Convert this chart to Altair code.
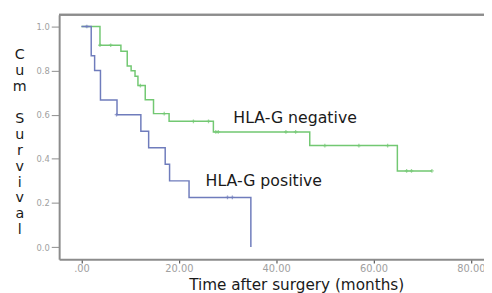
import altair as alt
import pandas as pd

# Kaplan-Meier step points (time in months, cumulative survival)
neg_time = [0, 3.8, 8.1, 9.4, 10.2, 11.0, 11.6, 13.1, 14.8, 18.0, 27.1, 46.9, 64.9, 72.0]
neg_surv = [1.0, 0.915, 0.888, 0.821, 0.799, 0.774, 0.732, 0.668, 0.605, 0.570, 0.522, 0.460, 0.345, 0.345]
pos_time = [0, 2.0, 2.7, 3.9, 7.3, 12.2, 13.8, 17.2, 18.1, 22.1, 34.8]
pos_surv = [1.0, 0.867, 0.80, 0.667, 0.60, 0.525, 0.45, 0.375, 0.30, 0.225, 0.0]

# censored observations
neg_cens_time = [3.8, 6.0, 12.1, 17.0, 23.0, 26.1, 27.6, 28.1, 42.0, 44.0, 50.0, 57.0, 62.9, 66.8, 67.8, 72.0]
neg_cens_surv = [0.915, 0.915, 0.732, 0.605, 0.570, 0.570, 0.522, 0.522, 0.522, 0.522, 0.460, 0.460, 0.460, 0.345, 0.345, 0.345]
pos_cens_time = [1.1, 7.2, 30.0, 31.0]
pos_cens_surv = [1.0, 0.60, 0.225, 0.225]

groups = ["HLA-G negative", "HLA-G positive"]
colors = ["#72c872", "#6f7cbc"]

label_text = ["HLA-G negative", "HLA-G positive"]
label_time = [31.2, 25.5]
label_surv = [0.561, 0.276]

# y-axis title, written letter over letter (two words)
ytitle_words = ["C u m", "S u r v i v a l"]

x_ticks = [0, 20, 40, 60, 80]
y_ticks = [0.0, 0.2, 0.4, 0.6, 0.8, 1.0]

steps = pd.DataFrame(
    {"group": [groups[0]] * len(neg_time) + [groups[1]] * len(pos_time),
     "time": neg_time + pos_time,
     "surv": neg_surv + pos_surv}
)
cens = pd.DataFrame(
    {"group": [groups[0]] * len(neg_cens_time) + [groups[1]] * len(pos_cens_time),
     "time": neg_cens_time + pos_cens_time,
     "surv": neg_cens_surv + pos_cens_surv}
)
labels = pd.DataFrame({"text": label_text, "time": label_time, "surv": label_surv})

W, H = 432, 248.5
LH = 16.2
xscale = alt.Scale(domain=[-4.59, 82.7], nice=False, zero=False)
yscale = alt.Scale(domain=[-0.055, 1.053], nice=False, zero=False)
cscale = alt.Scale(domain=groups, range=colors)

x_enc = alt.X(
    "time:Q", scale=xscale,
    axis=alt.Axis(
        values=x_ticks,
        labelExpr="datum.value == 0 ? '.00' : format(datum.value, '.2f')",
        title="Time after surgery (months)",
        titleFont="DejaVu Sans", titleFontSize=15.5, titleFontWeight="normal",
        titleColor="#1a1a1a", titleX=241, titleY=31, titleAlign="center",
        titleBaseline="alphabetic",
        labelFont="DejaVu Sans", labelFontSize=10, labelColor="#a0a0a0",
        labelPadding=1, tickSize=4, tickColor="#555555", tickWidth=1.2,
        domainColor="#8c8c8c", domainWidth=2, grid=False,
    ),
)
y_enc = alt.Y(
    "surv:Q", scale=yscale,
    axis=alt.Axis(
        values=y_ticks, format=".1f", title=None,
        labelFont="DejaVu Sans", labelFontSize=8.5, labelColor="#a0a0a0",
        labelPadding=2, tickSize=8, tickColor="#8c8c8c", tickWidth=1,
        domainColor="#8c8c8c", domainWidth=2, grid=False,
    ),
)

lines = alt.Chart(steps).mark_line(interpolate="step-after", strokeWidth=1.5).encode(
    x=x_enc, y=y_enc,
    color=alt.Color("group:N", scale=cscale, legend=None),
    order=alt.Order("group:N", sort="ascending"),
)

cross = "M-1,0L1,0M0,-1L0,1"
marks = alt.Chart(cens).mark_point(shape=cross, filled=False, size=14, strokeWidth=1.3).encode(
    x="time:Q", y="surv:Q",
    color=alt.Color("group:N", scale=cscale, legend=None),
)

texts = alt.Chart(labels).mark_text(
    align="left", baseline="alphabetic", font="DejaVu Sans", fontSize=16, color="#1a1a1a"
).encode(x="time:Q", y="surv:Q", text="text:N")

ytitle_style = dict(align="center", baseline="top", font="DejaVu Sans", fontSize=14.5,
                    color="#1a1a1a", lineBreak=" ", lineHeight=LH)
ytitle1 = alt.Chart(pd.DataFrame({"t": [ytitle_words[0]]})).mark_text(**ytitle_style).encode(
    text="t:N", x=alt.value(-40), y=alt.value(34)
)
ytitle2 = alt.Chart(pd.DataFrame({"t": [ytitle_words[1]]})).mark_text(**ytitle_style).encode(
    text="t:N", x=alt.value(-40), y=alt.value(34 + 4 * LH)
)

top_border = alt.Chart(labels).mark_rule(color="#8c8c8c", strokeWidth=2).encode(
    x=alt.value(0), x2=alt.value(W), y=alt.value(0)
)

chart = alt.layer(lines, marks, texts, ytitle1, ytitle2, top_border).properties(
    width=W, height=H,
    autosize=alt.AutoSizeParams(type="none"),
    padding={"left": 52, "top": 4.5, "right": 0, "bottom": 34},
).configure_view(fill="#f0f0f0", stroke="transparent").configure(background="white")

chart.save("out.html", embed_options={"renderer": "svg", "actions": False})
